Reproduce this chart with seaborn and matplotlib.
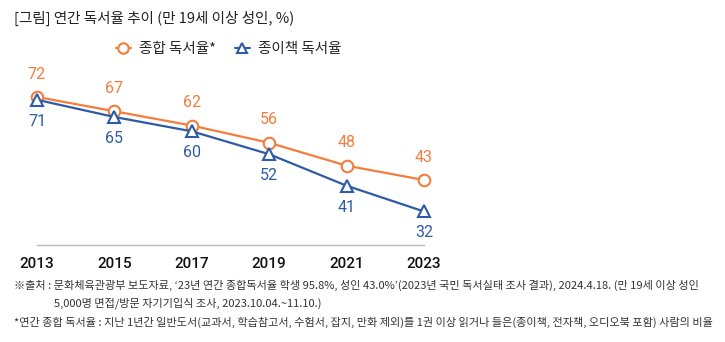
import matplotlib
matplotlib.use("Agg")
import matplotlib.pyplot as plt
import seaborn as sns
import pandas as pd
from matplotlib.lines import Line2D

years = [2013, 2015, 2017, 2019, 2021, 2023]
total_rate = [72, 67, 62, 56, 48, 43]
paper_rate = [71, 65, 60, 52, 41, 32]
series_names = ["종합 독서율*", "종이책 독서율"]

title = "[그림] 연간 독서율 추이 (만 19세 이상 성인, %)"
notes = [
    "※출처 : 문화체육관광부 보도자료, ‘23년 연간 종합독서율 학생 95.8%, 성인 43.0%’(2023년 국민 독서실태 조사 결과), 2024.4.18. (만 19세 이상 성인",
    "5,000명 면접/방문 자기기입식 조사, 2023.10.04.~11.10.)",
    "*연간 종합 독서율 : 지난 1년간 일반도서(교과서, 학습참고서, 수험서, 잡지, 만화 제외)를 1권 이상 읽거나 들은(종이책, 전자책, 오디오북 포함) 사람의 비율",
]

ORANGE = "#F47C3C"
BLUE = "#2F5BA6"

sns.set_theme(style="white")
plt.rcParams["font.family"] = ["Noto Sans CJK KR", "DejaVu Sans"]

df = pd.DataFrame({
    "year": years * 2,
    "rate": total_rate + paper_rate,
    "series": [series_names[0]] * len(years) + [series_names[1]] * len(years),
})

W, H = 725, 342
fig = plt.figure(figsize=(W / 100, H / 100), dpi=100)
ax = fig.add_axes([37 / W, 1 - 245 / H, (424 - 37) / W, (245 - 60) / H])

sns.lineplot(
    data=df, x="year", y="rate", hue="series", style="series",
    palette=[ORANGE, BLUE], markers=["o", "^"], dashes=False,
    markersize=8.3, markerfacecolor="white", markeredgewidth=1.5,
    linewidth=1.6, ax=ax, legend=False,
)
for line in ax.lines:
    line.set_clip_on(False)
    line.set_markeredgecolor(line.get_color())
    line.set_markerfacecolor("white")

ax.set_xlim(2013, 2023)
ax.set_ylim(20.3, 84.9)

label_font = ["Roboto", "DejaVu Sans"]
for x, y in zip(years, total_rate):
    ax.annotate(str(y), (x, y), xytext=(0, 11), textcoords="offset points",
                ha="center", va="bottom", color=ORANGE, fontsize=11.5,
                family=label_font)
for x, y in zip(years, paper_rate):
    ax.annotate(str(y), (x, y), xytext=(0, -10), textcoords="offset points",
                ha="center", va="top", color=BLUE, fontsize=11.5,
                family=label_font)

for s in ["top", "left", "right"]:
    ax.spines[s].set_visible(False)
ax.spines["bottom"].set_color("#BBBBBB")
ax.spines["bottom"].set_linewidth(1.0)
ax.set_yticks([])
ax.set_xticks(years)
ax.set_xticklabels([str(y) for y in years], fontsize=11, color="#111111",
                   family=label_font, fontweight="medium")
ax.tick_params(axis="x", length=0, pad=9)
ax.set_xlabel("")
ax.set_ylabel("")

fig.text(14 / W, 1 - 18 / H, title, fontsize=10.5, color="#222222", va="center", ha="left")

handles = [
    Line2D([0], [0], color=ORANGE, marker="o", markersize=7.5, markerfacecolor="white",
           markeredgecolor=ORANGE, markeredgewidth=1.5, linewidth=1.5),
    Line2D([0], [0], color=BLUE, marker="^", markersize=7.5, markerfacecolor="white",
           markeredgecolor=BLUE, markeredgewidth=1.5, linewidth=1.5),
]
fig.legend(handles, series_names, loc="center", bbox_to_anchor=(229 / W, 1 - 49 / H),
           ncol=2, frameon=False, handlelength=1.0, handletextpad=0.6, columnspacing=1.3,
           prop={"size": 10.5, "weight": "medium"})

fig.text(14 / W, 1 - 285 / H, notes[0], fontsize=8, color="#333333", va="center", ha="left")
fig.text(54 / W, 1 - 303 / H, notes[1], fontsize=8, color="#333333", va="center", ha="left")
fig.text(14 / W, 1 - 322 / H, notes[2], fontsize=8, color="#333333", va="center", ha="left")

fig.savefig("out.png", dpi=100, facecolor="white")
